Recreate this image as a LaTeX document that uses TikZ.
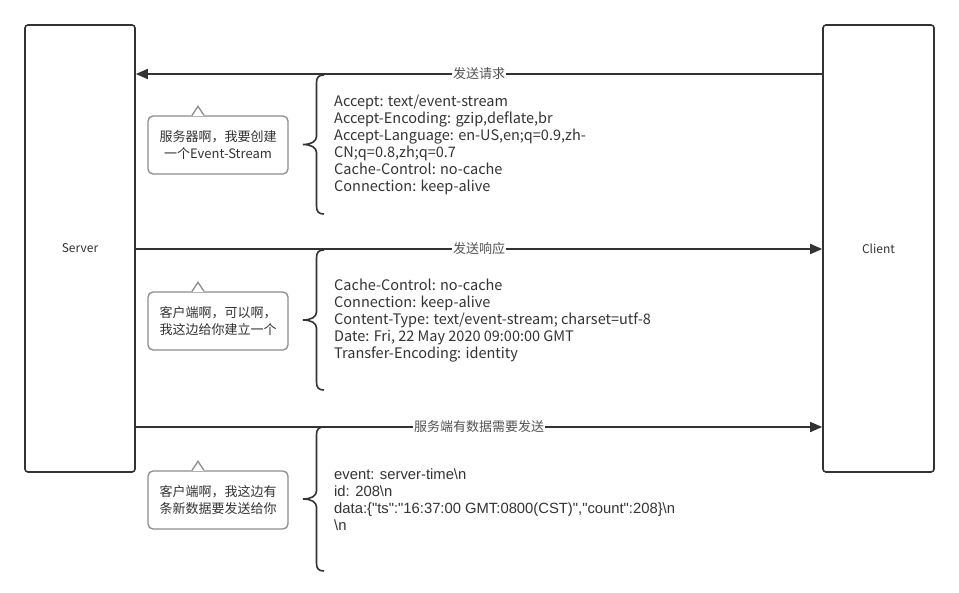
\documentclass[tikz,border=0pt]{standalone}
\usepackage{fontspec}
\setmainfont{Noto Sans CJK SC}
\newfontfamily\datafont{Liberation Sans}
\usetikzlibrary{arrows.meta}
\definecolor{ink}{HTML}{333333}
\definecolor{callgray}{HTML}{8C8C8C}
\newcommand\mybrace[2]{%
  \pgfmathsetmacro\bmid{(#1+#2)/2}%
  \draw[bracestyle] (324,#1) .. controls (319,#1) and (316.5,#1+2) .. (316.5,#1+8)
    -- (316.5,\bmid-8) .. controls (316.5,\bmid-3) and (311,\bmid) .. (303,\bmid)
    .. controls (311,\bmid) and (316.5,\bmid+3) .. (316.5,\bmid+8)
    -- (316.5,#2-8) .. controls (316.5,#2-2) and (319,#2) .. (324,#2);}
\begin{document}
\begin{tikzpicture}[x=1pt,y=-1pt,
  party/.style={draw=ink, line width=1.6pt, rounded corners=3pt, minimum height=447pt,
    font=\fontsize{12}{14}\selectfont, text=ink},
  msg/.style={draw=ink, line width=1.6pt, -{Triangle[length=12pt,width=10pt]}},
  lbl/.style={fill=white, inner sep=1pt, text=ink!85, font=\fontsize{13}{15}\selectfont},
  bracestyle/.style={draw=ink, line width=1.6pt},
  hdr/.style={align=left, inner sep=0pt, text=ink, font=\fontsize{14.5}{17}\selectfont},
  bubble/.style={draw=callgray, line width=1.3pt, rounded corners=5pt, fill=white,
    minimum width=140pt, minimum height=58pt, align=center, text=ink,
    font=\fontsize{13}{17}\selectfont},
  ptr/.style={draw=callgray, line width=1.3pt, line join=miter}]
\useasboundingbox[fill=white] (0,0) rectangle (959,593);

\node[party, minimum width=110pt] (server) at (80,248.5) {Server};
\node[party, minimum width=111pt] (client) at (878.5,248.5) {Client};

\coordinate (c1) at (client.west |- 0,74);
\coordinate (s1) at (server.east |- 0,74);
\coordinate (s2) at (server.east |- 0,249);
\coordinate (c2) at (client.west |- 0,249);
\coordinate (s3) at (server.east |- 0,427);
\coordinate (c3) at (client.west |- 0,427);

\draw[msg] (c1) -- node[lbl] (l1) {发送请求} (s1);
\draw[msg] (s2) -- node[lbl] (l2) {发送响应} (c2);
\draw[msg] (s3) -- node[lbl] (l3) {服务端有数据需要发送} (c3);

\mybrace{75}{214}
\mybrace{250}{390}
\mybrace{427}{571}

\node[hdr, anchor=north west] (req) at (334,94.5) {Accept: text/event-stream\\
Accept-Encoding: gzip,deflate,br\\
Accept-Language: en-US,en;q=0.9,zh-\\
CN;q=0.8,zh;q=0.7\\
Cache-Control: no-cache\\
Connection: keep-alive};

\node[hdr, anchor=north west] (resp) at (334,278.5) {Cache-Control: no-cache\\
Connection: keep-alive\\
Content-Type: text/event-stream; charset=utf-8\\
Date: Fri, 22 May 2020 09:00:00 GMT\\
Transfer-Encoding: identity};

\node[hdr, anchor=north west, font=\datafont\fontsize{14.8}{17}\selectfont] (data) at (334,468.5) {event: server-time\textbackslash n\\
id: 208\textbackslash n\\
data:\{"ts":"16:37:00 GMT:0800(CST)","count":208\}\textbackslash n\\
\textbackslash n};

\foreach \n/\y/\t in {b1/145/{服务器啊，我要创建\\一个Event-Stream},
                      b2/321/{客户端啊，可以啊，\\我这边给你建立一个},
                      b3/500/{客户端啊，我这边有\\条新数据要发送给你}} {
  \node[bubble] (\n) at (218,\y) {\t};
  \fill[white] ([xshift=-25.5pt,yshift=-1pt]\n.north) rectangle ([xshift=-14.5pt,yshift=1.2pt]\n.north);
  \draw[ptr] ([xshift=-26pt]\n.north) -- ([xshift=-20pt,yshift=9pt]\n.north) -- ([xshift=-14pt]\n.north);
}
\end{tikzpicture}
\end{document}
